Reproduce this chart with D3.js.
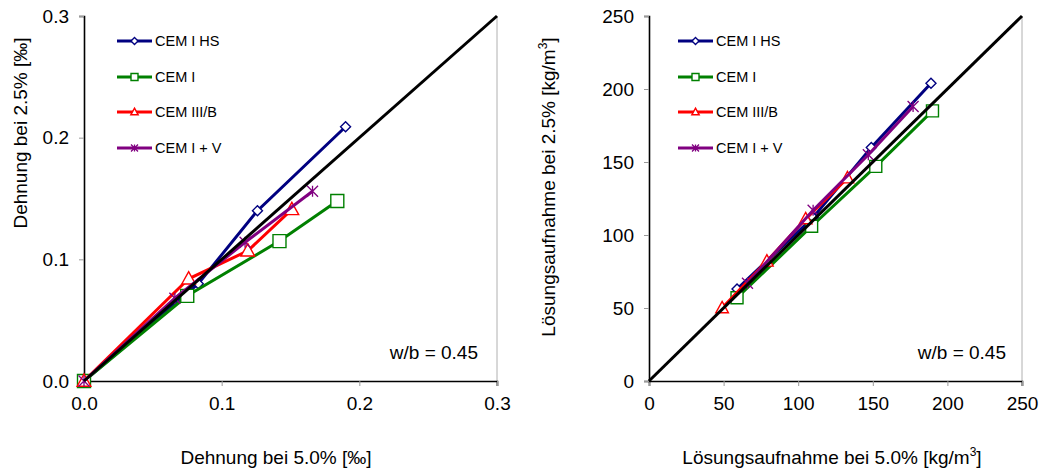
<!DOCTYPE html>
<html>
<head>
<meta charset="utf-8">
<script src="https://cdn.jsdelivr.net/npm/d3@7"></script>
<style>
  html, body { margin: 0; padding: 0; background: #fff; }
  svg { display: block; font-family: "Liberation Sans", Arial, sans-serif; }
</style>
</head>
<body>
<svg id="chart" width="1043" height="470"></svg>
<script>
// Series names, colours and marker shapes
const seriesNames = ["CEM I HS", "CEM I", "CEM III/B", "CEM I + V"];
const seriesColors = ["#000080", "#008000", "#ff0000", "#800080"];
const seriesMarkers = ["diamond", "square", "triangle", "star"];

// Strain: expansion at 5.0 % vs 2.5 % sulfate solution [‰]
const strainX = [
  [0, 0.083, 0.126, 0.190],
  [0, 0.075, 0.142, 0.184],
  [0, 0.076, 0.119, 0.151],
  [0, 0.066, 0.117, 0.166]
];
const strainY = [
  [0, 0.080, 0.140, 0.209],
  [0, 0.070, 0.115, 0.148],
  [0, 0.084, 0.107, 0.141],
  [0, 0.068, 0.114, 0.156]
];

// Solution uptake at 5.0 % vs 2.5 % [kg/m³]
const uptakeX = [
  [59, 110, 149, 189],
  [59, 109, 152, 190],
  [49, 79, 105, 133],
  [66, 110, 147, 177]
];
const uptakeY = [
  [63, 112, 160, 204],
  [57, 106, 147, 185],
  [50, 82, 111, 139],
  [67, 117, 155, 188]
];

const strainTicks = [0, 0.1, 0.2, 0.3];
const uptakeTicks = [0, 50, 100, 150, 200, 250];
const ratioLabel = "w/b = 0.45";

const svg = d3.select("#chart");
const FONT = "19px";

function markerPath(type, size) {
  const s = size / 2;
  if (type === "diamond") return `M0,${-s}L${s},0L0,${s}L${-s},0Z`;
  if (type === "square") return `M${-s},${-s}H${s}V${s}H${-s}Z`;
  if (type === "triangle") return `M0,${-s * 1.1}L${s * 1.05},${s * 0.8}L${-s * 1.05},${s * 0.8}Z`;
  // asterisk-like star
  return `M${-s},${-s}L${s},${s}M${-s},${s}L${s},${-s}M0,${-s}V${s}`;
}

function drawMarker(g, type, color, x, y, size) {
  g.append("path")
    .attr("transform", `translate(${x},${y})`)
    .attr("d", markerPath(type, size))
    .attr("stroke", color)
    .attr("stroke-width", type === "star" ? 1.3 : 1.4)
    .attr("fill", type === "star" ? "none" : "#fff");
}

function panel(opts) {
  const { left, right, top, bottom, domain, ticks, fmt, xs, ys, markerSize,
          xTitle, yTitle, yTitleX, yTitleY, legendX, ratioX, xTitleX } = opts;
  const x = d3.scaleLinear().domain(domain).range([left, right]);
  const y = d3.scaleLinear().domain(domain).range([bottom, top]);
  const g = svg.append("g");

  // light frame on the right side of the plot area
  g.append("line").attr("x1", right).attr("x2", right).attr("y1", top).attr("y2", bottom + 5)
    .attr("stroke", "#b0b0b0").attr("stroke-width", 1);

  // axes
  const xAxis = d3.axisBottom(x).tickValues(ticks).tickFormat(fmt).tickSize(5).tickPadding(8);
  const yAxis = d3.axisLeft(y).tickValues(ticks).tickFormat(fmt).tickSize(5).tickPadding(10);
  const gx = g.append("g").attr("transform", `translate(0,${bottom})`).call(xAxis);
  const gy = g.append("g").attr("transform", `translate(${left},0)`).call(yAxis);
  [gx, gy].forEach(a => {
    a.select(".domain").attr("stroke", "#000").attr("stroke-width", 1.6);
    a.selectAll(".tick line").attr("stroke", "#999");
    a.selectAll(".tick text").attr("fill", "#000").style("font-size", FONT)
      .style("font-family", "Liberation Sans, Arial, sans-serif");
  });
  gx.selectAll(".tick text").attr("dy", "0.85em");

  // series lines and markers
  const line = d3.line();
  seriesNames.forEach((name, i) => {
    const pts = xs[i].map((v, j) => [x(v), y(ys[i][j])]);
    g.append("path").attr("d", line(pts)).attr("fill", "none")
      .attr("stroke", seriesColors[i]).attr("stroke-width", 3);
    pts.forEach(p => drawMarker(g, seriesMarkers[i], seriesColors[i], p[0], p[1], markerSize[i]));
  });

  // 1:1 reference line
  g.append("line").attr("x1", x(domain[0])).attr("y1", y(domain[0]))
    .attr("x2", x(domain[1])).attr("y2", y(domain[1]))
    .attr("stroke", "#000").attr("stroke-width", 3);

  // legend
  const legendY = [41, 77, 112, 148];
  seriesNames.forEach((name, i) => {
    const lg = g.append("g");
    lg.append("line").attr("x1", legendX).attr("x2", legendX + 35)
      .attr("y1", legendY[i]).attr("y2", legendY[i])
      .attr("stroke", seriesColors[i]).attr("stroke-width", 3);
    drawMarker(lg, seriesMarkers[i], seriesColors[i], legendX + 17.5, legendY[i], 7);
    lg.append("text").attr("x", legendX + 38).attr("y", legendY[i] + 5)
      .style("font-size", "14.5px").text(name);
  });

  // ratio annotation
  g.append("text").attr("x", ratioX).attr("y", 359).attr("text-anchor", "end")
    .style("font-size", FONT).text(ratioLabel);

  // axis titles
  g.append("text").attr("x", xTitleX).attr("y", 464).attr("text-anchor", "middle")
    .style("font-size", FONT).html(xTitle);
  g.append("text").attr("transform", `translate(${yTitleX},${yTitleY}) rotate(-90)`)
    .attr("text-anchor", "middle").style("font-size", FONT).html(yTitle);
}

const sup3 = "<tspan dy='-8' font-size='12px'>3</tspan><tspan dy='8'>]</tspan>";

panel({
  left: 84, right: 497, top: 16, bottom: 381,
  domain: [0, 0.3], ticks: strainTicks, fmt: d3.format(".1f"),
  xs: strainX, ys: strainY, markerSize: [10, 13, 13, 11],
  xTitle: "Dehnung bei 5.0% [‰]", xTitleX: 276,
  yTitle: "Dehnung bei 2.5% [‰]", yTitleX: 27, yTitleY: 133,
  legendX: 117, ratioX: 478
});

panel({
  left: 649, right: 1022, top: 16, bottom: 381,
  domain: [0, 250], ticks: uptakeTicks, fmt: d3.format("d"),
  xs: uptakeX, ys: uptakeY, markerSize: [10, 12, 12, 11],
  xTitle: "Lösungsaufnahme bei 5.0% [kg/m" + sup3, xTitleX: 832,
  yTitle: "Lösungsaufnahme bei 2.5% [kg/m" + sup3, yTitleX: 555, yTitleY: 187,
  legendX: 678, ratioX: 1006
});
</script>
</body>
</html>
